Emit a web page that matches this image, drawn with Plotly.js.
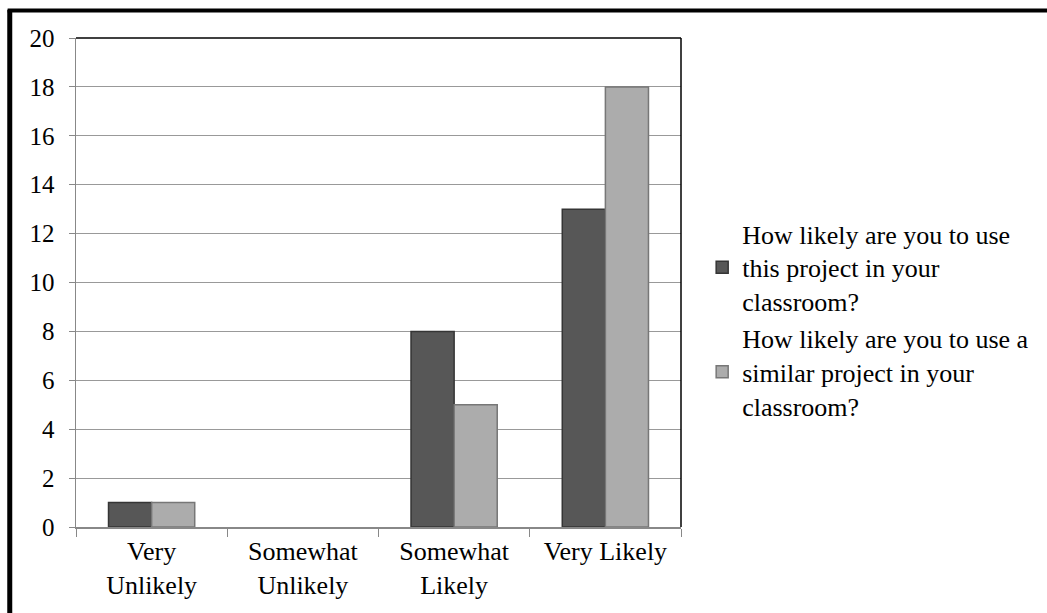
<!DOCTYPE html>
<html>
<head>
<meta charset="utf-8">
<script src="https://cdn.plot.ly/plotly-3.0.1.min.js"></script>
<style>html,body{margin:0;padding:0;background:#fff;}#chart{width:1047px;height:613px;}</style>
</head>
<body>
<div id="chart"></div>
<script>
const categories = ["Very<br>Unlikely", "Somewhat<br>Unlikely", "Somewhat<br>Likely", "Very Likely"];
const seriesNames = ["How likely are you to use<br>this project in your<br>classroom?", "How likely are you to use a<br>similar project in your<br>classroom?"];
const thisProject = [1, 0, 8, 13];
const similarProject = [1, 0, 5, 18];
const yTicks = [0, 2, 4, 6, 8, 10, 12, 14, 16, 18, 20];

const fam = "Liberation Serif, Times New Roman, serif";
const tickFont = {family: fam, size: 25, color: "#000"};
const legFont = {family: fam, size: 26, color: "#000"};

const lineW = vals => vals.map(v => v > 0 ? 1.5 : 0);

const traces = [
  {type: "bar", name: seriesNames[0], x: categories, y: thisProject,
   marker: {color: "#575757", line: {color: "#353535", width: lineW(thisProject)}}},
  {type: "bar", name: seriesNames[1], x: categories, y: similarProject,
   marker: {color: "#acacac", line: {color: "#777777", width: lineW(similarProject)}}}
];

const layout = {
  width: 1047, height: 613,
  paper_bgcolor: "#fff", plot_bgcolor: "#fff",
  margin: {l: 76, r: 366, t: 38, b: 86},
  font: tickFont,
  barmode: "group", bargap: 0.43, bargroupgap: 0,
  showlegend: true,
  legend: {x: 1.035, y: 0.648, xanchor: "left", yanchor: "top", font: legFont,
           tracegroupgap: 1, itemwidth: 30, bgcolor: "rgba(0,0,0,0)"},
  xaxis: {type: "category", showline: true, linecolor: "#888", linewidth: 1.5,
          ticks: "outside", tickson: "boundaries", ticklen: 8, tickcolor: "#888",
          showgrid: false, tickfont: legFont, tickangle: 0, fixedrange: true},
  yaxis: {range: [0, 20], tickvals: yTicks, ticktext: yTicks.map(String),
          showline: true, linecolor: "#888", linewidth: 1.5,
          ticks: "outside", ticklen: 6, tickcolor: "#888",
          showgrid: true, gridcolor: "#999", gridwidth: 1, zeroline: false,
          tickfont: tickFont, ticklabelstandoff: 9, fixedrange: true},
  shapes: [
    {type: "line", xref: "paper", yref: "paper", x0: 0, x1: 1, y0: 1, y1: 1, line: {color: "#000", width: 1.5}},
    {type: "line", xref: "paper", yref: "paper", x0: 1, x1: 1, y0: 0, y1: 1, line: {color: "#000", width: 1.5}},
    {type: "line", xref: "paper", yref: "paper", x0: -0.1095, x1: -0.1095, y0: 1.058, y1: -0.2, line: {color: "#000", width: 5}},
    {type: "line", xref: "paper", yref: "paper", x0: -0.113, x1: 1.7, y0: 1.0562, y1: 1.0562, line: {color: "#000", width: 4}}
  ]
};

Plotly.newPlot("chart", traces, layout, {displayModeBar: false, staticPlot: true});
</script>
</body>
</html>
